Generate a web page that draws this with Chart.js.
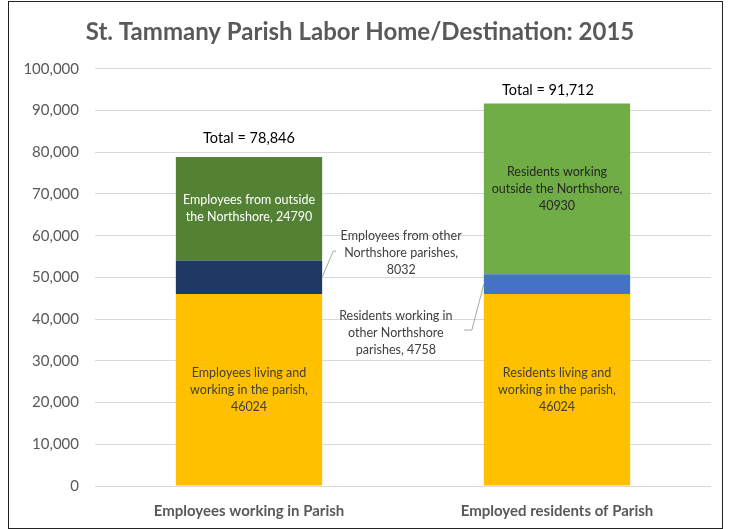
<!DOCTYPE html>
<html>
<head>
<meta charset="utf-8">
<script src="https://cdn.jsdelivr.net/npm/chart.js@4"></script>
<style>
  body { margin: 0; background: #fff; }
  #frame {
    position: absolute; left: 8px; top: 1px;
    width: 713px; height: 526px;
    border: 1px solid #222;
  }
</style>
</head>
<body>
<div id="frame"><canvas id="myChart" width="713" height="526"></canvas></div>
<script>
// datos
const categories = ["Employees working in Parish", "Employed residents of Parish"];
const localValues = [46024, 46024];
const otherParishValues = [8032, 4758];
const outsideValues = [24790, 40930];
const yTicks = [0, 10000, 20000, 30000, 40000, 50000, 60000, 70000, 80000, 90000, 100000];

// textos de las etiquetas ({v} = valor)
const localNames = [
  ["Employees living and", "working in the parish,", "{v}"],
  ["Residents living and", "working in the parish,", "{v}"],
];
const otherNames = [
  ["Employees from other", "Northshore parishes,", "{v}"],
  ["Residents working in", "other Northshore", "parishes, {v}"],
];
const outsideNames = [
  ["Employees from outside", "the Northshore, {v}"],
  ["Residents working", "outside the Northshore,", "{v}"],
];

const FONT = "Lato, 'Open Sans', sans-serif";

// plugin para etiquetas de segmentos y totales
const labelsPlugin = {
  id: "segLabels",
  afterDatasetsDraw(chart, args, opts) {
    const ctx = chart.ctx;
    ctx.save();
    ctx.font = "12.5px " + FONT;
    ctx.textAlign = "center";
    ctx.textBaseline = "middle";
    const lh = 17;

    chart.data.datasets.forEach((ds, i) => {
      const meta = chart.getDatasetMeta(i);
      meta.data.forEach((bar, j) => {
        const lines = ds.labelLines[j].map((l) => l.replace("{v}", ds.data[j]));
        const midY = (bar.y + bar.base) / 2;
        const out = ds.outside ? ds.outside[j] : null;
        ctx.fillStyle = ds.labelColor[j];
        let cx = bar.x;
        let cy = midY;
        if (out) {
          const edge = out.side === "right" ? bar.x + bar.width / 2 : bar.x - bar.width / 2;
          cx = edge + out.dx;
          cy = midY + out.dy;
          // linea guia
          ctx.strokeStyle = "#a6a6a6";
          ctx.lineWidth = 1;
          ctx.beginPath();
          ctx.moveTo(edge, midY);
          out.leader.forEach((p) => ctx.lineTo(edge + p[0], midY + p[1]));
          ctx.stroke();
        }
        const startY = cy - ((lines.length - 1) * lh) / 2;
        lines.forEach((l, k) => ctx.fillText(l, cx, startY + k * lh));
      });
    });

    // totales
    ctx.font = "14.5px " + FONT;
    ctx.fillStyle = "#000";
    const topMeta = chart.getDatasetMeta(chart.data.datasets.length - 1);
    topMeta.data.forEach((bar, j) => {
      const total = localValues[j] + otherParishValues[j] + outsideValues[j];
      const off = opts.totalOffsets[j];
      ctx.fillText("Total = " + total.toLocaleString("en-US"), bar.x + off[0], bar.y + off[1]);
    });
    ctx.restore();
  },
};

const ctx = document.getElementById("myChart").getContext("2d");

new Chart(ctx, {
  type: "bar",
  data: {
    labels: categories,
    datasets: [
      {
        data: localValues,
        backgroundColor: ["#FFC000", "#FFC000"],
        labelLines: localNames,
        labelColor: ["#404040", "#404040"],
      },
      {
        data: otherParishValues,
        backgroundColor: ["#203864", "#4472C4"],
        labelLines: otherNames,
        labelColor: ["#404040", "#404040"],
        outside: [
          { side: "right", dx: 79, dy: -24, leader: [[11, -26], [14, -26]] },
          { side: "left", dx: -88, dy: 49, leader: [[-12, 46], [-20, 46]] },
        ],
      },
      {
        data: outsideValues,
        backgroundColor: ["#548235", "#70AD47"],
        labelLines: outsideNames,
        labelColor: ["#ffffff", "#262626"],
      },
    ],
  },
  plugins: [labelsPlugin],
  options: {
    responsive: false,
    animation: false,
    events: [],
    layout: { padding: { top: 0, right: 11, bottom: 0, left: 0 } },
    plugins: {
      legend: { display: false },
      tooltip: { enabled: false },
      title: {
        display: true,
        text: "St. Tammany Parish Labor Home/Destination: 2015",
        color: "#595959",
        font: { family: FONT, size: 24, weight: "bold" },
        padding: { top: 16, bottom: 22 },
      },
      segLabels: { totalOffsets: [[0, -19], [-9, -13]] },
    },
    datasets: {
      bar: { barPercentage: 0.475, categoryPercentage: 1 },
    },
    scales: {
      x: {
        stacked: true,
        grid: { display: false, drawTicks: false },
        border: { display: false },
        ticks: {
          color: "#595959",
          font: { family: FONT, size: 15, weight: "bold" },
          padding: 16,
        },
        afterFit: (scale) => { scale.height = 42; },
      },
      y: {
        stacked: true,
        min: 0,
        max: 100000,
        afterBuildTicks: (scale) => { scale.ticks = yTicks.map((v) => ({ value: v })); },
        grid: { color: "#d9d9d9", drawTicks: false },
        border: { display: false },
        ticks: {
          color: "#595959",
          font: { family: FONT, size: 15 },
          padding: 16,
          callback: (v) => v.toLocaleString("en-US"),
        },
        afterFit: (scale) => { scale.width = 86; },
      },
    },
  },
});
</script>
</body>
</html>
